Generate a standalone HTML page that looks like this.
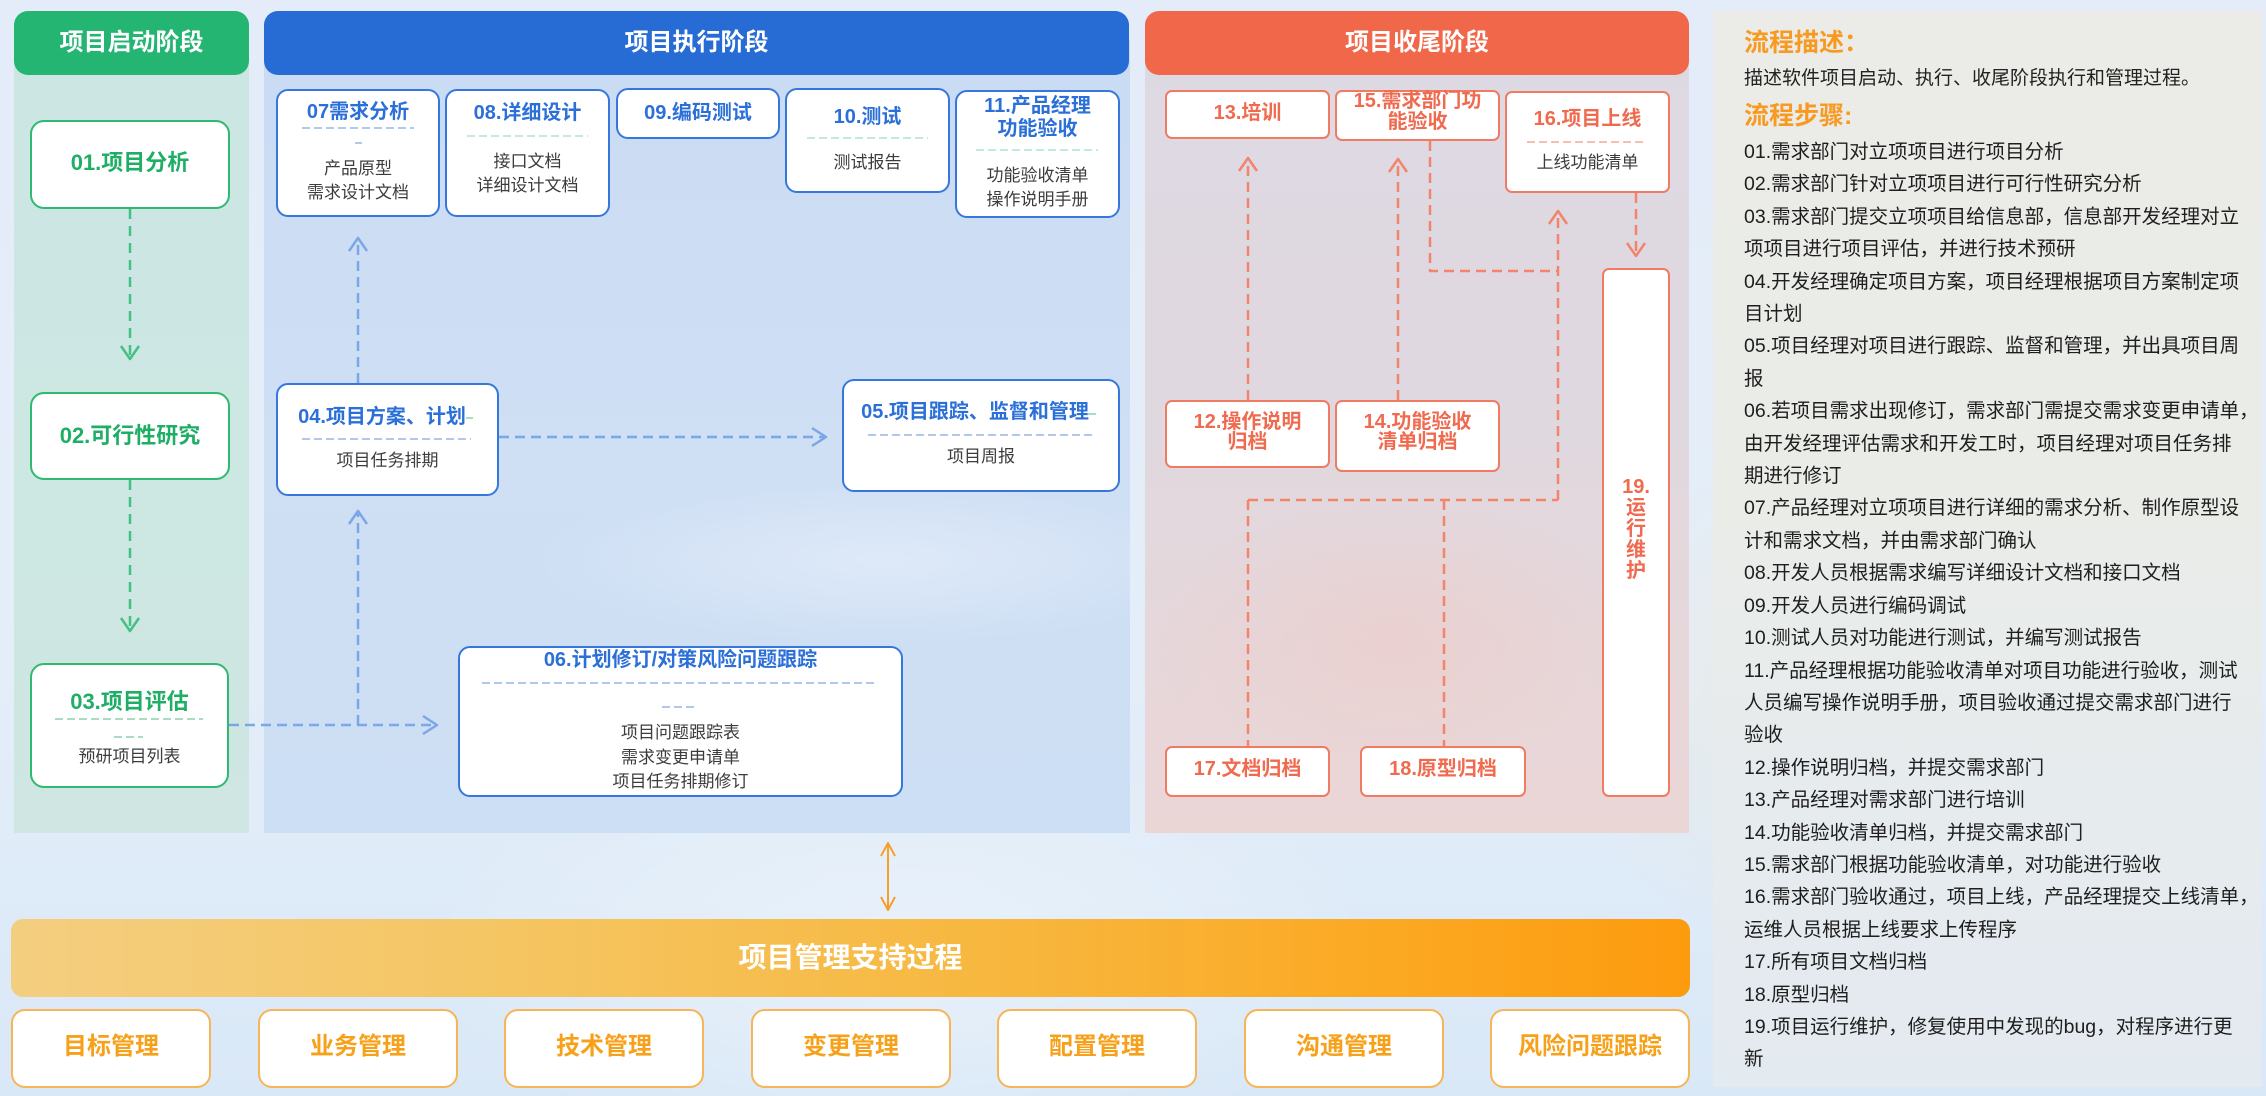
<!DOCTYPE html>
<html lang="zh">
<head>
<meta charset="utf-8">
<style>
*{margin:0;padding:0;box-sizing:border-box;}
html,body{width:2266px;height:1096px;overflow:hidden;}
body{position:relative;font-family:"Liberation Sans","Noto Sans CJK SC","WenQuanYi Zen Hei",sans-serif;
background:
radial-gradient(ellipse 700px 300px at 900px 950px, rgba(255,255,255,0.35), rgba(255,255,255,0) 70%),
radial-gradient(ellipse 500px 400px at 1900px 700px, rgba(245,225,180,0.35), rgba(255,255,255,0) 70%),
linear-gradient(180deg,#e3ecf8 0%,#e4eef9 60%,#d9e8f7 100%);}
.abs{position:absolute;}
.panel{position:absolute;}
.hdr{position:absolute;border-radius:14px;color:#fff;font-weight:700;font-size:24px;text-align:center;line-height:64px;height:64px;}
.box{position:absolute;background:#fff;}
.g{border:2px solid #30b970;border-radius:14px;}
.b{border:2px solid #3577dc;border-radius:12px;}
.o{border:2px solid #f07b63;border-radius:7px;}
.y{border:2px solid #f8b457;border-radius:14px;}
.t{position:absolute;text-align:center;white-space:nowrap;}
.gt{color:#1fae66;font-weight:700;font-size:22px;line-height:26px;}
.bt{color:#2b6fd8;font-weight:700;font-size:20px;line-height:24px;}
.ot{color:#ef6a4f;font-weight:700;font-size:20px;line-height:24px;}
.st{color:#3c3c3c;font-size:17px;line-height:22px;}
.yt{color:#f7a11a;font-weight:700;font-size:24px;line-height:30px;}
</style>
</head>
<body>

<!-- stage panels -->
<div class="panel" style="left:14px;top:40px;width:235px;height:793px;background:linear-gradient(180deg,#cce6e4 0%,#cde7e3 60%,#cfe6e2 100%);"></div>
<div class="panel" style="left:264px;top:40px;width:866px;height:793px;background:
radial-gradient(ellipse 500px 120px at 620px 520px, rgba(235,242,252,0.55), rgba(235,242,252,0) 70%),
linear-gradient(180deg,#c9dbf3 0%,#cfdff4 50%,#cddff4 100%);"></div>
<div class="panel" style="left:1145px;top:40px;width:544px;height:793px;background:
radial-gradient(ellipse 350px 200px at 250px 600px, rgba(240,200,195,0.45), rgba(240,200,195,0) 70%),
linear-gradient(180deg,#ddd9e3 0%,#e0d8df 50%,#ebd6d6 100%);"></div>

<div class="hdr" style="left:14px;top:11px;width:235px;background:#24b572;">项目启动阶段</div>
<div class="hdr" style="left:264px;top:11px;width:865px;background:#276bd5;">项目执行阶段</div>
<div class="hdr" style="left:1145px;top:11px;width:544px;background:#f0674a;">项目收尾阶段</div>

<!-- text panel -->
<div class="panel" style="left:1713px;top:11px;width:549px;height:1076px;background:linear-gradient(180deg,#ebebe7 0%,#eaece8 45%,#e6ebee 75%,#e3eaf0 100%);"></div>

<!-- connectors -->
<svg class="abs" style="left:0;top:0;" width="2266" height="1096" viewBox="0 0 2266 1096">
<g fill="none" stroke-linecap="butt" stroke-linejoin="round">
 <!-- green -->
 <g stroke="#45c083" stroke-width="2.5">
  <line x1="130" y1="209" x2="130" y2="358" stroke-dasharray="10 7"/>
  <polyline points="121,346 130,359 139,346"/>
  <line x1="130" y1="480" x2="130" y2="630" stroke-dasharray="10 7"/>
  <polyline points="121,618 130,631 139,618"/>
 </g>
 <!-- blue -->
 <g stroke="#7ca6e6" stroke-width="2.5">
  <line x1="358" y1="383" x2="358" y2="239" stroke-dasharray="10 6"/>
  <polyline points="349,251 358,238 367,251"/>
  <line x1="229" y1="725" x2="436" y2="725" stroke-dasharray="10 6"/>
  <polyline points="423,716 437,725 423,734"/>
  <line x1="358" y1="725" x2="358" y2="512" stroke-dasharray="10 6"/>
  <polyline points="349,524 358,511 367,524"/>
  <line x1="499" y1="437" x2="824" y2="437" stroke-dasharray="10 6"/>
  <polyline points="812,428 826,437 812,446"/>
 </g>
 <!-- orange -->
 <g stroke="#f2846c" stroke-width="2.5">
  <line x1="1248" y1="400" x2="1248" y2="159" stroke-dasharray="10 6"/>
  <polyline points="1239,171 1248,158 1257,171"/>
  <line x1="1398" y1="400" x2="1398" y2="160" stroke-dasharray="10 6"/>
  <polyline points="1389,172 1398,159 1407,172"/>
  <polyline points="1430,141 1430,271 1558,271" stroke-dasharray="10 6"/>
  <line x1="1558" y1="500" x2="1558" y2="212" stroke-dasharray="10 6"/>
  <polyline points="1549,224 1558,211 1567,224"/>
  <line x1="1636" y1="193" x2="1636" y2="255" stroke-dasharray="10 6"/>
  <polyline points="1627,243 1636,256 1645,243"/>
  <line x1="1248" y1="500" x2="1558" y2="500" stroke-dasharray="10 6"/>
  <line x1="1248" y1="500" x2="1248" y2="746" stroke-dasharray="10 6"/>
  <line x1="1444" y1="500" x2="1444" y2="746" stroke-dasharray="10 6"/>
 </g>
 <!-- double arrow -->
 <g stroke="#f5a02a" stroke-width="2">
  <line x1="888" y1="844" x2="888" y2="909"/>
  <polyline points="881,856 888,843 895,856"/>
  <polyline points="881,897 888,910 895,897"/>
 </g>
</g>
</svg>

<!-- start stage boxes -->
<div class="box g" style="left:30px;top:120px;width:200px;height:89px;"></div>
<div class="t gt" style="left:30px;top:150px;width:200px;">01.项目分析</div>
<div class="box g" style="left:30px;top:392px;width:200px;height:88px;"></div>
<div class="t gt" style="left:30px;top:423px;width:200px;">02.可行性研究</div>
<div class="box g" style="left:30px;top:663px;width:199px;height:125px;"></div>
<div class="t gt" style="left:30px;top:689px;width:199px;">03.项目评估</div>
<div class="t st" style="left:30px;top:746px;width:199px;">预研项目列表</div>

<!-- execution boxes -->
<div class="box b" style="left:276px;top:89px;width:164px;height:128px;"></div>
<div class="t bt" style="left:276px;top:100px;width:164px;">07需求分析</div>
<div class="t st" style="left:276px;top:158px;width:164px;">产品原型</div>
<div class="t st" style="left:276px;top:182px;width:164px;">需求设计文档</div>

<div class="box b" style="left:445px;top:89px;width:165px;height:128px;"></div>
<div class="t bt" style="left:445px;top:101px;width:165px;">08.详细设计</div>
<div class="t st" style="left:445px;top:151px;width:165px;">接口文档</div>
<div class="t st" style="left:445px;top:175px;width:165px;">详细设计文档</div>

<div class="box b" style="left:616px;top:88px;width:164px;height:51px;"></div>
<div class="t bt" style="left:616px;top:101px;width:164px;">09.编码测试</div>

<div class="box b" style="left:785px;top:88px;width:165px;height:105px;"></div>
<div class="t bt" style="left:785px;top:105px;width:165px;">10.测试</div>
<div class="t st" style="left:785px;top:152px;width:165px;">测试报告</div>

<div class="box b" style="left:955px;top:90px;width:165px;height:128px;"></div>
<div class="t bt" style="left:955px;top:95px;width:165px;line-height:23px;">11.产品经理<br>功能验收</div>
<div class="t st" style="left:955px;top:164px;width:165px;line-height:24px;">功能验收清单<br>操作说明手册</div>

<div class="box b" style="left:276px;top:383px;width:223px;height:113px;"></div>
<div class="t bt" style="left:276px;top:405px;width:212px;">04.项目方案、计划</div>
<div class="t st" style="left:276px;top:450px;width:223px;">项目任务排期</div>

<div class="box b" style="left:842px;top:379px;width:278px;height:113px;"></div>
<div class="t bt" style="left:842px;top:400px;width:266px;">05.项目跟踪、监督和管理</div>
<div class="t st" style="left:842px;top:446px;width:278px;">项目周报</div>

<div class="box b" style="left:458px;top:646px;width:445px;height:151px;"></div>
<div class="t bt" style="left:458px;top:648px;width:445px;">06.计划修订/对策风险问题跟踪</div>
<div class="t st" style="left:458px;top:721px;width:445px;line-height:24.5px;">项目问题跟踪表<br>需求变更申请单<br>项目任务排期修订</div>

<!-- closing boxes -->
<div class="box o" style="left:1165px;top:90px;width:165px;height:49px;"></div>
<div class="t ot" style="left:1165px;top:101px;width:165px;">13.培训</div>
<div class="box o" style="left:1335px;top:90px;width:165px;height:51px;"></div>
<div class="t ot" style="left:1335px;top:91px;width:165px;line-height:21px;">15.需求部门功<br>能验收</div>
<div class="box o" style="left:1505px;top:91px;width:165px;height:102px;"></div>
<div class="t ot" style="left:1505px;top:107px;width:165px;">16.项目上线</div>
<div class="t st" style="left:1505px;top:152px;width:165px;">上线功能清单</div>

<div class="box o" style="left:1165px;top:400px;width:165px;height:68px;"></div>
<div class="t ot" style="left:1165px;top:412px;width:165px;line-height:20px;">12.操作说明<br>归档</div>
<div class="box o" style="left:1335px;top:400px;width:165px;height:72px;"></div>
<div class="t ot" style="left:1335px;top:412px;width:165px;line-height:20px;">14.功能验收<br>清单归档</div>

<div class="box o" style="left:1165px;top:746px;width:165px;height:51px;"></div>
<div class="t ot" style="left:1165px;top:757px;width:165px;">17.文档归档</div>
<div class="box o" style="left:1360px;top:746px;width:166px;height:51px;"></div>
<div class="t ot" style="left:1360px;top:757px;width:166px;">18.原型归档</div>

<div class="box o" style="left:1602px;top:268px;width:68px;height:529px;"></div>
<div class="t ot" style="left:1602px;top:477px;width:68px;line-height:21px;">19.<br>运<br>行<br>维<br>护</div>

<!-- dividers -->
<svg class="abs" style="left:0;top:0;" width="2266" height="1096" viewBox="0 0 2266 1096">
<g fill="none" stroke-width="2" stroke-dasharray="8 4">
 <g stroke="#a9dcc0">
  <line x1="55" y1="719" x2="203" y2="719"/>
  <line x1="114" y1="737" x2="143" y2="737"/>
 </g>
 <g stroke="#b1c8ee">
  <line x1="302" y1="128" x2="414" y2="128"/>
  <line x1="302" y1="439" x2="471" y2="439"/>
  <line x1="868" y1="435" x2="1094" y2="435"/>
  <line x1="482" y1="683" x2="877" y2="683"/>
  <line x1="662" y1="707" x2="698" y2="707"/>
 </g>
 <line x1="355" y1="143" x2="362" y2="143" stroke="#b1c8ee" stroke-dasharray="none"/>
 <g stroke="#c3ead5">
  <line x1="467" y1="136" x2="588" y2="136"/>
  <line x1="807" y1="138" x2="928" y2="138"/>
  <line x1="976" y1="150" x2="1098" y2="150"/>
 </g>
 <g stroke="#a6e0c0" stroke-dasharray="none">
  <line x1="466" y1="418" x2="473" y2="418"/>
  <line x1="1088" y1="414" x2="1096" y2="414"/>
 </g>
 <line x1="1527" y1="142" x2="1647" y2="142" stroke="#f7bfb0"/>
</g>
</svg>

<!-- support bar -->
<div class="abs" style="left:11px;top:919px;width:1679px;height:78px;border-radius:12px;background:linear-gradient(90deg,#f4ce80 0%,#f5c562 30%,#f7b943 55%,#fbaa25 80%,#fd9b0e 100%);"></div>
<div class="t" style="left:11px;top:940px;width:1679px;color:#fff;font-weight:700;font-size:28px;line-height:36px;">项目管理支持过程</div>

<div class="box y" style="left:11px;top:1009px;width:200px;height:79px;"></div>
<div class="t yt" style="left:11px;top:1032px;width:200px;">目标管理</div>
<div class="box y" style="left:258px;top:1009px;width:200px;height:79px;"></div>
<div class="t yt" style="left:258px;top:1032px;width:200px;">业务管理</div>
<div class="box y" style="left:504px;top:1009px;width:200px;height:79px;"></div>
<div class="t yt" style="left:504px;top:1032px;width:200px;">技术管理</div>
<div class="box y" style="left:751px;top:1009px;width:200px;height:79px;"></div>
<div class="t yt" style="left:751px;top:1032px;width:200px;">变更管理</div>
<div class="box y" style="left:997px;top:1009px;width:200px;height:79px;"></div>
<div class="t yt" style="left:997px;top:1032px;width:200px;">配置管理</div>
<div class="box y" style="left:1244px;top:1009px;width:200px;height:79px;"></div>
<div class="t yt" style="left:1244px;top:1032px;width:200px;">沟通管理</div>
<div class="box y" style="left:1490px;top:1009px;width:200px;height:79px;"></div>
<div class="t yt" style="left:1490px;top:1032px;width:200px;">风险问题跟踪</div>

<!-- text panel content -->
<div class="abs" style="left:1744px;top:28px;font-size:25px;line-height:30px;font-weight:700;color:#f89a22;white-space:nowrap;">流程描述：</div>
<div class="abs" style="left:1744px;top:66px;font-size:19px;line-height:26px;color:#222;white-space:nowrap;">描述软件项目启动、执行、收尾阶段执行和管理过程。</div>
<div class="abs" style="left:1744px;top:101px;font-size:25px;line-height:30px;font-weight:700;color:#f89a22;white-space:nowrap;">流程步骤:</div>
<div class="abs" style="left:1744px;top:136px;font-size:19.5px;line-height:32.4px;color:#1e1e1e;white-space:nowrap;">
01.需求部门对立项项目进行项目分析<br>
02.需求部门针对立项项目进行可行性研究分析<br>
03.需求部门提交立项项目给信息部，信息部开发经理对立<br>
项项目进行项目评估，并进行技术预研<br>
04.开发经理确定项目方案，项目经理根据项目方案制定项<br>
目计划<br>
05.项目经理对项目进行跟踪、监督和管理，并出具项目周<br>
报<br>
06.若项目需求出现修订，需求部门需提交需求变更申请单，<br>
由开发经理评估需求和开发工时，项目经理对项目任务排<br>
期进行修订<br>
07.产品经理对立项项目进行详细的需求分析、制作原型设<br>
计和需求文档，并由需求部门确认<br>
08.开发人员根据需求编写详细设计文档和接口文档<br>
09.开发人员进行编码调试<br>
10.测试人员对功能进行测试，并编写测试报告<br>
11.产品经理根据功能验收清单对项目功能进行验收，测试<br>
人员编写操作说明手册，项目验收通过提交需求部门进行<br>
验收<br>
12.操作说明归档，并提交需求部门<br>
13.产品经理对需求部门进行培训<br>
14.功能验收清单归档，并提交需求部门<br>
15.需求部门根据功能验收清单，对功能进行验收<br>
16.需求部门验收通过，项目上线，产品经理提交上线清单，<br>
运维人员根据上线要求上传程序<br>
17.所有项目文档归档<br>
18.原型归档<br>
19.项目运行维护，修复使用中发现的bug，对程序进行更<br>
新
</div>

</body>
</html>
